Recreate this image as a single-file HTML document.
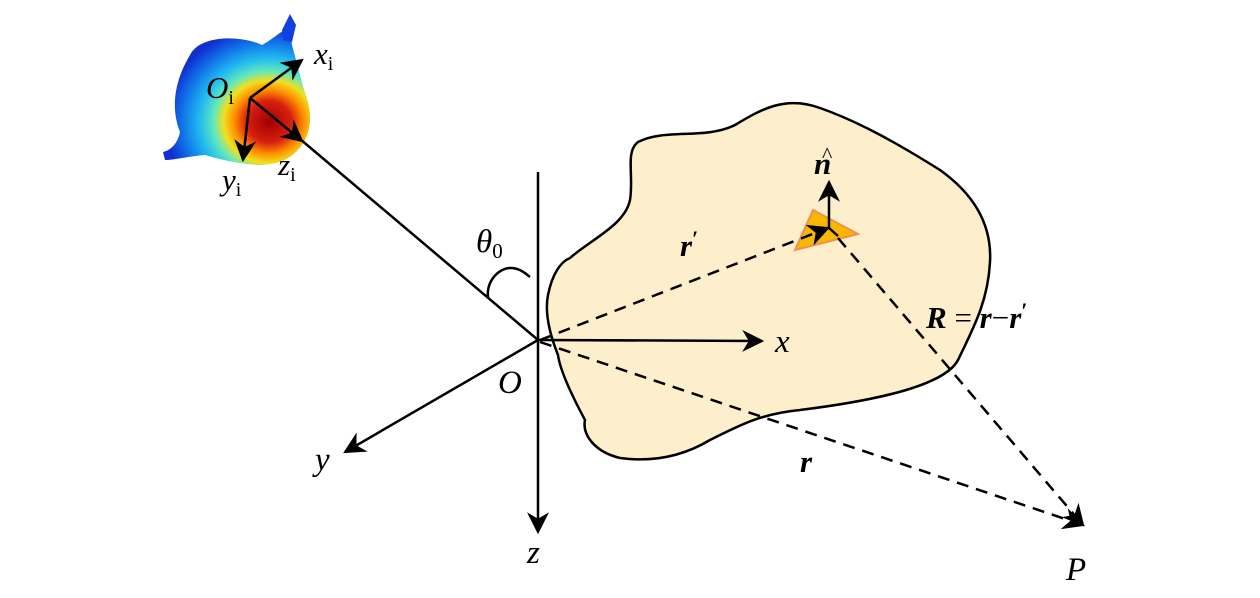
<!DOCTYPE html>
<html><head><meta charset="utf-8"><style>
html,body{margin:0;padding:0;background:#fff;width:1260px;height:598px;overflow:hidden}
svg text{font-family:"Liberation Serif",serif;}
</style></head><body>
<svg width="1260" height="598" viewBox="0 0 1260 598" xmlns="http://www.w3.org/2000/svg">
<defs>
<marker id="ahb" viewBox="0 0 10 10" refX="9" refY="5" markerWidth="26" markerHeight="22" markerUnits="userSpaceOnUse" orient="auto">
<path d="M0,0 L10,5 L0,10 L3,5 Z" fill="#000"/></marker>
<radialGradient id="g" cx="0.72" cy="0.68" r="0.7">
<stop offset="0" stop-color="#a00000"/><stop offset="0.22" stop-color="#d82010"/>
<stop offset="0.34" stop-color="#ff9000"/><stop offset="0.44" stop-color="#f0e020"/>
<stop offset="0.54" stop-color="#60e8c0"/><stop offset="0.68" stop-color="#20b8f0"/>
<stop offset="0.85" stop-color="#1070e8"/><stop offset="1" stop-color="#1030d0"/></radialGradient>
</defs>
<!-- blob -->
<path d="M638,142 C665,128 705,140 735,125 C760,110 785,95 820,108 C860,122 900,145 940,170 C975,195 992,225 990,262 C988,300 975,325 958,360 C945,385 880,400 800,410 C760,414 740,425 710,440 C680,458 650,462 620,458 C595,452 582,435 585,420 C570,392 560,370 558,355 C548,330 545,310 548,295 C552,275 560,262 570,258 C590,240 625,225 630,200 C634,175 625,152 638,142 Z" fill="#fdefcb" stroke="#000" stroke-width="2.5"/>
<!-- colourful object -->
<path d="M190,55 C200,35 240,35 262,45 C272,40 282,30 286,30 L290,32 L292,45 C296,60 300,75 304,90 C312,110 312,125 305,140 C295,158 280,165 258,165 C240,164 222,160 205,155 C190,156 175,160 165,160 L163,152 C172,150 178,142 180,132 C172,112 172,85 190,55 Z" fill="url(#g)"/>
<path d="M283,40 L292,42 L296,25 L290,14 L282,30 Z" fill="#1040e0"/>
<!-- axes -->
<g stroke="#000" stroke-width="2.5" fill="none">
<line x1="538" y1="172" x2="538" y2="532" marker-end="url(#ahb)"/>
<line x1="538" y1="340" x2="762" y2="341" marker-end="url(#ahb)"/>
<line x1="538" y1="340" x2="345" y2="452" marker-end="url(#ahb)"/>
<line x1="538" y1="340" x2="300" y2="139"/>
<line x1="250" y1="98" x2="302" y2="141" marker-end="url(#ahb)"/>
<line x1="250" y1="98" x2="302" y2="60" marker-end="url(#ahb)"/>
<line x1="250" y1="98" x2="243" y2="160" marker-end="url(#ahb)"/>
<path d="M488,298 C486,280 500,267 512,268 C522,269 527,275 530,277"/>
</g>
<!-- triangle -->
<polygon points="813,210 858,234 795,250" fill="#f8b800" stroke="#f09050" stroke-width="2"/>
<g stroke="#000" stroke-width="2.5" fill="none">
<line x1="829" y1="228" x2="829" y2="182" marker-end="url(#ahb)"/>
<line x1="540" y1="340" x2="828" y2="228" stroke-dasharray="12,8" marker-end="url(#ahb)"/>
<line x1="829" y1="228" x2="838" y2="236"/>
<line x1="838" y1="238" x2="1083" y2="525" stroke-dasharray="12,8" marker-end="url(#ahb)"/>
<line x1="540" y1="342" x2="1083" y2="525" stroke-dasharray="12,8" marker-end="url(#ahb)"/>
</g>
<!-- labels -->
<g font-size="31" font-style="italic" fill="#000">
<text x="206" y="98">O<tspan font-size="20" font-style="normal" dy="6">i</tspan></text>
<text x="314" y="64">x<tspan font-size="20" font-style="normal" dy="6">i</tspan></text>
<text x="222" y="190">y<tspan font-size="20" font-style="normal" dy="6">i</tspan></text>
<text x="278" y="175">z<tspan font-size="20" font-style="normal" dy="6">i</tspan></text>
<text x="476" y="252" font-size="33">θ<tspan font-size="21" font-style="normal" dy="6">0</tspan></text>
<text x="498" y="393" font-size="33">O</text>
<text x="775" y="352" font-size="33">x</text>
<text x="315" y="470" font-size="33">y</text>
<text x="527" y="563" font-size="33">z</text>
<text x="1066" y="580" font-size="33">P</text>
<text x="814" y="174" font-weight="bold">n</text>
<text x="822" y="162" font-style="normal" font-size="22">^</text>
<text x="680" y="256" font-weight="bold">r<tspan font-style="normal" font-size="22" dy="-10">′</tspan></text>
<text x="800" y="472" font-weight="bold">r</text>
<text x="926" y="328" font-weight="bold">R<tspan font-weight="normal" font-style="normal"> = </tspan>r<tspan font-weight="normal" font-style="normal">−</tspan>r<tspan font-style="normal" font-size="22" dy="-10">′</tspan></text>
</g>
</svg>
</body></html>
